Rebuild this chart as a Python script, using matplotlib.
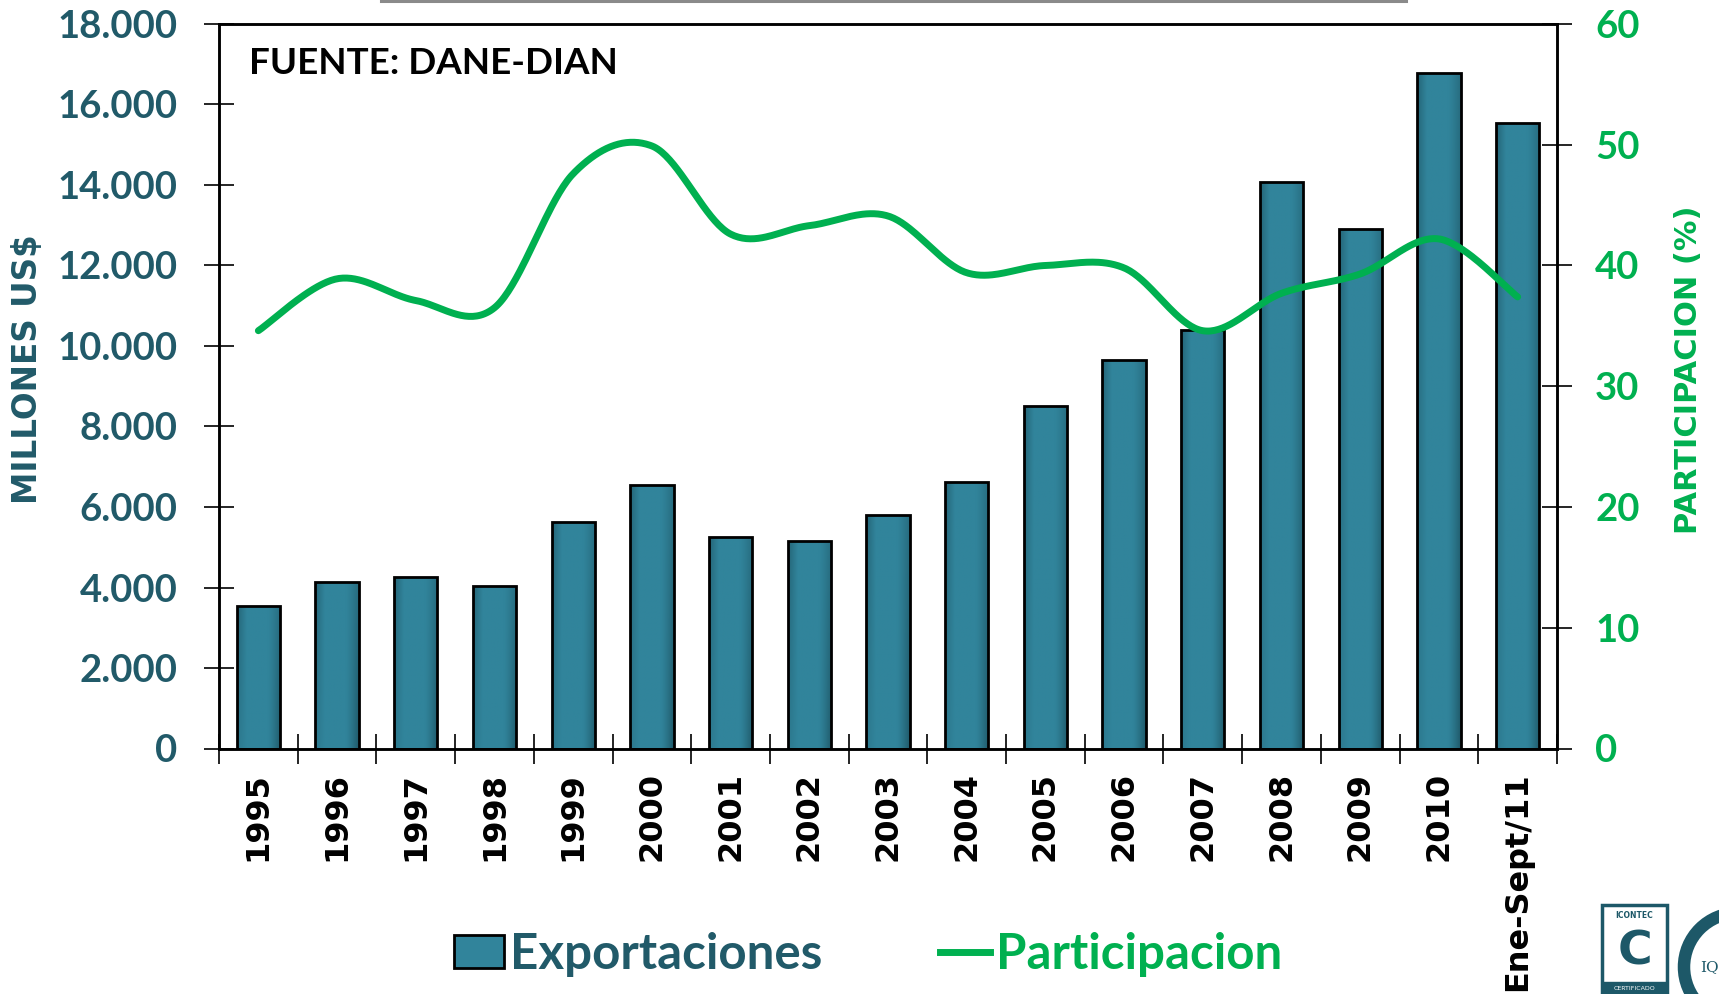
import numpy as np
import matplotlib
matplotlib.use("Agg")
import matplotlib.pyplot as plt
from matplotlib.patches import Rectangle, Ellipse, Patch
from matplotlib.lines import Line2D

# ---------------- data ----------------
categories = ['1995', '1996', '1997', '1998', '1999', '2000', '2001', '2002', '2003',
              '2004', '2005', '2006', '2007', '2008', '2009', '2010', 'Ene-Sept/11']
exportaciones = [3535, 4145, 4270, 4045, 5636, 6537, 5256, 5155, 5800,
                 6625, 8498, 9660, 10390, 14078, 12895, 16775, 15530]
participacion = [34.6, 38.9, 37.1, 36.5, 47.6, 49.9, 42.6, 43.3, 44.1,
                 39.4, 40.0, 39.8, 34.6, 37.7, 39.3, 42.2, 37.4]
left_ticks = [0, 2000, 4000, 6000, 8000, 10000, 12000, 14000, 16000, 18000]
left_labels = ['0', '2.000', '4.000', '6.000', '8.000', '10.000', '12.000',
               '14.000', '16.000', '18.000']
right_ticks = [0, 10, 20, 30, 40, 50, 60]

TEAL_TXT = '#215A69'
BAR = np.array([49, 132, 155]) / 255.0
BAR_DARK = np.array([26, 76, 90]) / 255.0
GREEN = '#00B050'
CAL = ['Lato', 'DejaVu Sans']
VER = ['DejaVu Sans']

W, H = 1719, 994
fig = plt.figure(figsize=(W / 100, H / 100), dpi=100)
fig.patch.set_facecolor('white')

ax = fig.add_axes([219 / W, 1 - 748.5 / H, (1557 - 219) / W, (748.5 - 24) / H])
x = np.arange(len(categories))
bw = 0.55

# bars with gradient shading
bars = ax.bar(x, exportaciones, width=bw, color=BAR, edgecolor='none', zorder=2)
nx, ny = 60, 120
u = np.linspace(0, 1, nx)[None, :]
v = np.linspace(0, 1, ny)[:, None]
w_left = np.clip(1 - u / 0.22, 0, 1) * 0.55 * (0.35 + 0.65 * v)
w_right = np.clip((u - 0.70) / 0.30, 0, 1) ** 1.3 * 0.75 * (1 - 0.45 * v)
wgt = np.clip(w_left + w_right, 0, 1)
img = BAR * (1 - wgt[..., None]) + BAR_DARK * wgt[..., None]
for b in bars:
    x0, y0 = b.get_x(), b.get_y()
    bwid, bh = b.get_width(), b.get_height()
    im = ax.imshow(img, extent=(x0, x0 + bwid, y0, y0 + bh), origin='lower',
                   aspect='auto', zorder=2.1, interpolation='bilinear')
    im.set_clip_path(b)
ax.bar(x, exportaciones, width=bw, facecolor='none', edgecolor='black',
       linewidth=2.0, zorder=2.2)

ax.set_xlim(-0.5, len(categories) - 0.5)
ax.set_ylim(0, 18000)
ax.set_yticks(left_ticks)
ax.set_yticklabels(left_labels)
ax.tick_params(axis='y', direction='inout', length=21, width=1.2, pad=19.5,
               labelsize=27.5, labelcolor=TEAL_TXT)
for t in ax.get_yticklabels():
    t.set_fontfamily(CAL)
    t.set_fontweight('bold')

ax.set_xticks(x)
ax.set_xticklabels(categories, rotation=90, va='top', ha='center')
ax.set_xticks(np.arange(-0.5, len(categories), 1.0), minor=True)
ax.tick_params(axis='x', which='major', length=0, pad=17, labelsize=23,
               labelcolor='black')
ax.tick_params(axis='x', which='minor', direction='inout', length=21, width=1.2)
for t in ax.get_xticklabels():
    t.set_fontfamily(VER)
    t.set_fontweight('bold')

for s in ['left', 'bottom', 'top', 'right']:
    ax.spines[s].set_linewidth(1.8)
    ax.spines[s].set_color('black')

# secondary axis with smoothed line
ax2 = ax.twinx()
ax2.set_ylim(0, 60)
ax2.set_yticks(right_ticks)
ax2.tick_params(axis='y', direction='inout', length=21, width=1.2, pad=17,
                labelsize=27.5, labelcolor=GREEN)
for t in ax2.get_yticklabels():
    t.set_fontfamily(CAL)
    t.set_fontweight('bold')
for s in ['left', 'bottom', 'top', 'right']:
    ax2.spines[s].set_linewidth(1.8)
    ax2.spines[s].set_color('black')


def catmull_rom(xs, ys, n=40):
    pts = np.column_stack([xs, ys]).astype(float)
    P = np.vstack([pts[0], pts, pts[-1]])
    out = []
    t = np.linspace(0, 1, n, endpoint=False)[:, None]
    for i in range(1, len(P) - 2):
        p0, p1, p2, p3 = P[i - 1], P[i], P[i + 1], P[i + 2]
        seg = 0.5 * ((2 * p1) + (-p0 + p2) * t + (2 * p0 - 5 * p1 + 4 * p2 - p3) * t ** 2
                     + (-p0 + 3 * p1 - 3 * p2 + p3) * t ** 3)
        out.append(seg)
    out.append(pts[-1][None, :])
    return np.vstack(out)


curve = catmull_rom(x, participacion)
ax2.plot(curve[:, 0], curve[:, 1], color=GREEN, linewidth=5, solid_capstyle='round',
         zorder=3)
ax2.set_xlim(-0.5, len(categories) - 0.5)

# axis titles
fig.text(28 / W, 0.629, 'MILLONES US$', rotation=90, ha='center', va='center',
         fontsize=23.5, fontweight='bold', color=TEAL_TXT, family=VER)
fig.text(1688 / W, 0.628, 'PARTICIPACION (%)', rotation=90, ha='center', va='center',
         fontsize=22, fontweight='bold', color=GREEN, family=VER)

# source note
fig.text(249 / W, 1 - 74 / H, 'FUENTE: DANE-DIAN', ha='left', va='baseline',
         fontsize=26.5, fontweight='bold', color='black', family=CAL)

# legend
handles = [Patch(facecolor=BAR, edgecolor='black', linewidth=2.0),
           Line2D([0], [0], color=GREEN, linewidth=5)]
leg = fig.legend(handles, ['Exportaciones', 'Participacion'], loc='center',
                 bbox_to_anchor=(0.505, 0.040), ncol=2, frameon=False,
                 prop={'family': CAL, 'weight': 'bold', 'size': 35.5},
                 handlelength=1.0, handleheight=0.65, handletextpad=0.12,
                 columnspacing=2.4)
leg.get_texts()[0].set_color(TEAL_TXT)
leg.get_texts()[1].set_color(GREEN)

# top frame remnant (box cut by top edge)
fig.add_artist(Line2D([381 / W, 1406 / W], [1 - 1.2 / H, 1 - 1.2 / H],
                      color='#8a8a8a', linewidth=2.2))

# logos (decoration, bottom right)
LOGO = '#1d5868'
fig.add_artist(Rectangle((1602 / W, 0), 65 / W, 89 / H, facecolor='white',
                         edgecolor=LOGO, linewidth=2.5))
fig.add_artist(Rectangle((1602 / W, 0), 65 / W, 12 / H, facecolor=LOGO,
                         edgecolor=LOGO, linewidth=1))
fig.text(1634.5 / W, 6 / H, 'CERTIFICADO', ha='center', va='center', fontsize=4.5,
         color='white', family=['DejaVu Sans'])
fig.text(1634.5 / W, 79 / H, 'ICONTEC', ha='center', va='center', fontsize=5.5,
         color=LOGO, fontweight='bold', family=['DejaVu Sans'])
fig.text(1634.5 / W, 42 / H, 'C', ha='center', va='center', fontsize=34,
         color=LOGO, fontweight='bold', family=['DejaVu Sans'])
fig.add_artist(Ellipse((1738 / W, 27 / H), 108 / W, 108 / H, facecolor='white',
                       edgecolor=LOGO, linewidth=9))
fig.text(1700 / W, 27 / H, 'IQ', ha='left', va='center', fontsize=11,
         color=LOGO, family=['DejaVu Serif'])

fig.savefig('out.png', dpi=100, facecolor='white')
